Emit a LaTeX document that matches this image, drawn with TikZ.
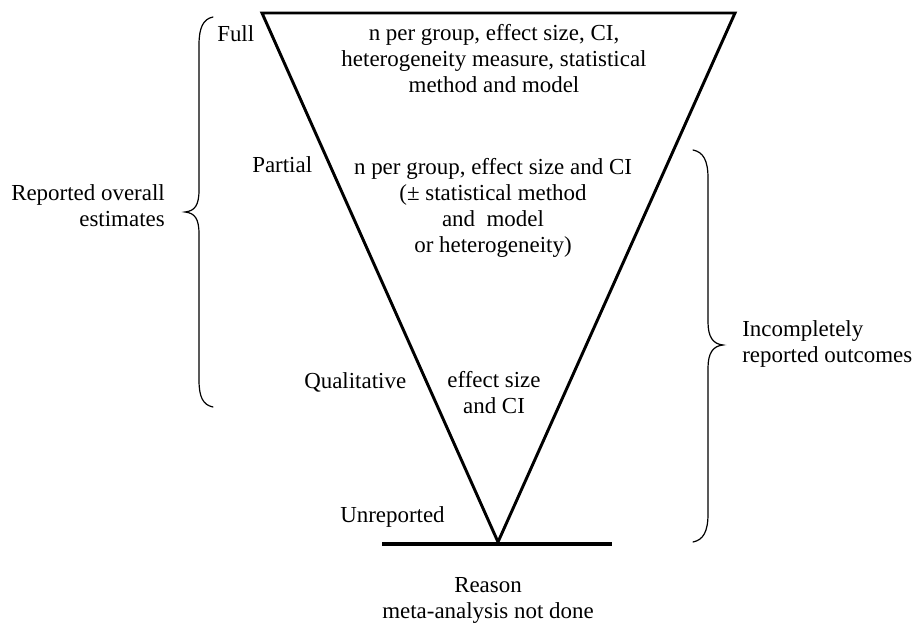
\documentclass[tikz,border=0pt]{standalone}
\usepackage{fontspec}
\setmainfont{Liberation Serif}
\begin{document}
\begin{tikzpicture}[x=0.75pt,y=-0.75pt,
  lbl/.style={font=\fontsize{17.2}{19.5}\selectfont, inner sep=0pt, align=center},
  brace/.style={line width=0.9pt, line cap=round}]
\useasboundingbox (0,0) rectangle (913,623);
\coordinate (tl) at (262,13);
\coordinate (tr) at (735,13);
\coordinate (apex) at (498,542);
\coordinate (bl) at (382,544);
\coordinate (br) at (612,544);
\draw[line width=2.2pt, line join=miter] (tl) -- (tr) -- (apex) -- cycle;
\draw[line width=3pt] (bl) -- (br);
% braces
\draw[brace] (213,17) .. controls (203,19) and (199,28) .. (199,45) -- (199,190)
  .. controls (199,205) and (195,211) .. (185,212)
  .. controls (195,213) and (199,219) .. (199,234) -- (199,380)
  .. controls (199,397) and (203,405) .. (213,407);
\draw[brace] (693,150) .. controls (703,152) and (708,160) .. (708,178) -- (708,322)
  .. controls (708,337) and (713,344) .. (723,345)
  .. controls (713,346) and (708,353) .. (708,368) -- (708,514)
  .. controls (708,532) and (703,540) .. (693,542);
% texts (base anchor = baseline of last line)
\node[lbl, anchor=base] (fulltxt) at (494,93) {n per group, effect size, CI,\\heterogeneity measure, statistical\\method and model};
\node[lbl, anchor=base west] (full) at (217,42) {Full};
\node[lbl, anchor=base west] (partial) at (252,173) {Partial};
\node[lbl, anchor=base] (partialtxt) at (493,253) {n per group, effect size and CI\\(± statistical method\\and\ \ model\\or heterogeneity)};
\node[lbl, anchor=base west] (qual) at (304,388) {Qualitative};
\node[lbl, anchor=base] (qualtxt) at (494,413) {effect size\\and CI};
\node[lbl, anchor=base west] (unrep) at (340,522) {Unreported};
\node[lbl, anchor=base] (reason) at (488,618) {Reason\\meta-analysis not done};
\node[lbl, align=right, anchor=base east] (rep) at (165,227) {Reported overall\\estimates};
\node[lbl, align=left, anchor=base west] (incomp) at (742,363) {Incompletely\\reported outcomes};
\end{tikzpicture}
\end{document}
